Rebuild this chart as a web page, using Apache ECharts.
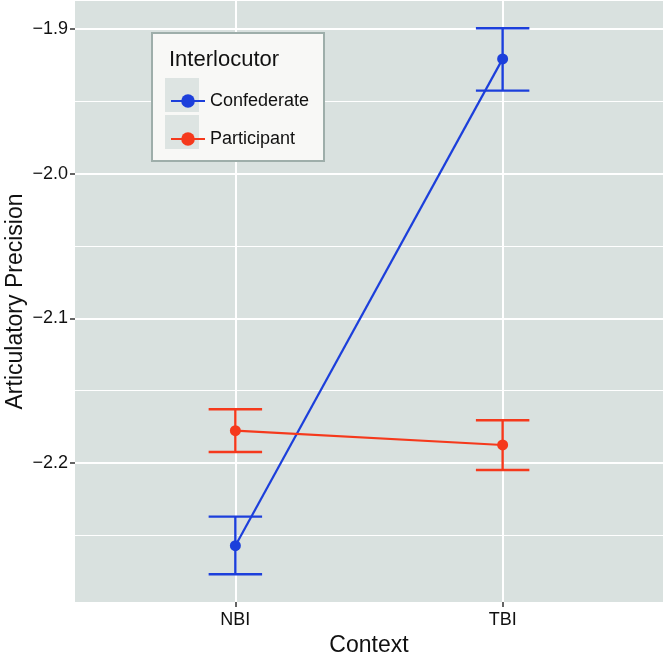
<!DOCTYPE html>
<html>
<head>
<meta charset="utf-8">
<script src="https://cdn.jsdelivr.net/npm/echarts@6/dist/echarts.min.js"></script>
<style>
  html, body { margin: 0; padding: 0; background: #fff; }
  #chart { width: 664px; height: 654px; }
</style>
</head>
<body>
<div id="chart"></div>
<script>
const contexts = ["NBI", "TBI"];
const interlocutors = ["Confederate", "Participant"];
const colors = ["#1c3fdb", "#f5391c"];

// mean, lower, upper per context (NBI, TBI)
const confederateMean = [-2.2571, -1.9207];
const confederateLow = [-2.2768, -1.9426];
const confederateHigh = [-2.2370, -1.8995];
const participantMean = [-2.1776, -2.1875];
const participantLow = [-2.1923, -2.2048];
const participantHigh = [-2.1628, -2.1704];

const yTicks = [-2.2, -2.1, -2.0, -1.9];
const yMinor = [-2.25, -2.15, -2.05, -1.95];

const font = "Liberation Sans, Arial, sans-serif";
const chart = echarts.init(document.getElementById("chart"));

const groups = [
  { mean: confederateMean, low: confederateLow, high: confederateHigh },
  { mean: participantMean, low: participantLow, high: participantHigh }
];

const series = [];
groups.forEach((g, i) => {
  series.push({
    name: interlocutors[i] + " err",
    type: "custom",
    silent: true,
    data: contexts.map((c, k) => [k + 1, g.low[k], g.high[k]]),
    renderItem: (params, api) => {
      const x = api.value(0);
      const lo = api.coord([x, api.value(1)]);
      const hi = api.coord([x, api.value(2)]);
      const l = api.coord([x - 0.1, api.value(1)])[0];
      const r = api.coord([x + 0.1, api.value(1)])[0];
      const style = { stroke: colors[i], lineWidth: 2.4 };
      return {
        type: "group",
        children: [
          { type: "line", shape: { x1: lo[0], y1: lo[1], x2: hi[0], y2: hi[1] }, style },
          { type: "line", shape: { x1: l, y1: lo[1], x2: r, y2: lo[1] }, style },
          { type: "line", shape: { x1: l, y1: hi[1], x2: r, y2: hi[1] }, style }
        ]
      };
    },
    z: 3
  });
  series.push({
    name: interlocutors[i],
    type: "line",
    data: contexts.map((c, k) => [k + 1, g.mean[k]]),
    symbol: "circle",
    symbolSize: 11,
    color: colors[i],
    lineStyle: { width: 2.2, color: colors[i] },
    itemStyle: { color: colors[i] },
    z: 4
  });
});

const axisFont = { fontFamily: font, fontSize: 23, color: "#111" };

chart.setOption({
  animation: false,
  textStyle: { fontFamily: font },
  grid: {
    left: 75, right: 1, top: 1, bottom: 52,
    outerBoundsMode: "none",
    containLabel: false,
    show: true, backgroundColor: "#d9e1df", borderWidth: 0
  },
  title: {
    text: "Interlocutor",
    left: 164, top: 44,
    z: 20,
    textStyle: { fontFamily: font, fontSize: 22, fontWeight: "normal", color: "#111" }
  },
  graphic: [
    { type: "rect", shape: { x: 152, y: 33, width: 172, height: 128 },
      style: { fill: "#f8f8f6", stroke: "#9eaeaa", lineWidth: 2 }, z: 10 },
    { type: "rect", shape: { x: 165, y: 78, width: 34, height: 34 },
      style: { fill: "#dde4e2" }, z: 11 },
    { type: "rect", shape: { x: 165, y: 115, width: 34, height: 34 },
      style: { fill: "#dde4e2" }, z: 11 }
  ],
  legend: {
    data: interlocutors,
    orient: "vertical",
    left: 165, top: 87,
    itemWidth: 34, itemHeight: 17,
    itemGap: 20, itemTextGap: 14,
    textStyle: { fontFamily: font, fontSize: 18, color: "#111" },
    z: 20
  },
  xAxis: {
    type: "value",
    min: 0.4, max: 2.6,
    name: "Context",
    nameLocation: "middle",
    nameGap: 32,
    nameMoveOverlap: false,
    nameTextStyle: axisFont,
    axisLine: { show: false },
    axisTick: { show: true, length: 5, lineStyle: { color: "#333", width: 1.5 }, customValues: [1, 2] },
    axisLabel: {
      margin: 9, fontSize: 18, color: "#111",
      customValues: [1, 2],
      formatter: v => contexts[Math.round(v) - 1]
    },
    splitLine: { show: true, lineStyle: { color: "#ffffff", width: 2 } }
  },
  yAxis: [
    {
      type: "value",
      min: -2.296, max: -1.8807,
      name: "Articulatory Precision",
      nameLocation: "middle",
      nameGap: 48,
      nameMoveOverlap: false,
      nameTextStyle: axisFont,
      axisLine: { show: false },
      axisTick: { show: true, length: 5, lineStyle: { color: "#333", width: 1.5 }, customValues: yTicks },
      axisLabel: {
        margin: 7, fontSize: 18, color: "#111",
        customValues: yTicks,
        formatter: v => (v < 0 ? "\u2212" : "") + Math.abs(v).toFixed(1)
      },
      splitLine: { show: true, lineStyle: { color: "#ffffff", width: 2 } },
      z: 1
    },
    {
      type: "value",
      min: -2.296, max: -1.8807,
      position: "left",
      axisLine: { show: false },
      axisTick: { show: false, customValues: yMinor },
      axisLabel: { show: false, customValues: yMinor },
      splitLine: { show: true, lineStyle: { color: "#ffffff", width: 1 } },
      z: 0
    }
  ],
  series: series
});
</script>
</body>
</html>
